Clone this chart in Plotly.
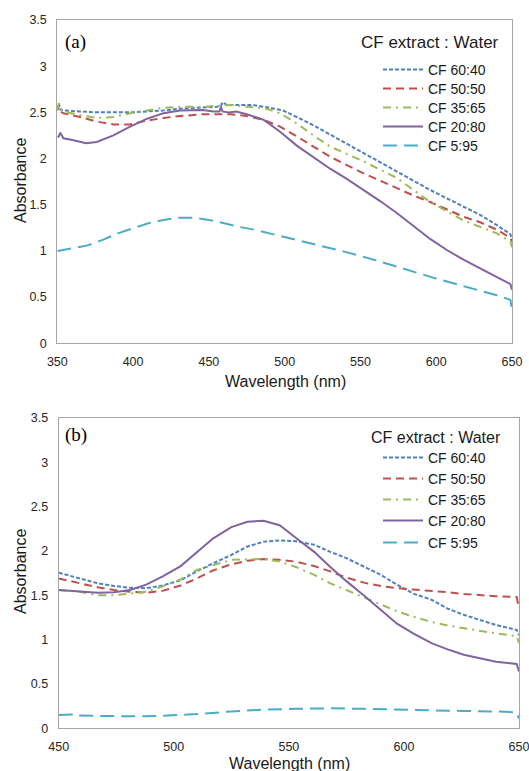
import plotly.graph_objects as go

W, H = 529, 771

series_names = ["CF 60:40", "CF 50:50", "CF 35:65", "CF 20:80", "CF 5:95"]
series_colors = ["#4F81BD", "#C0504D", "#9BBB59", "#8064A2", "#4BACC6"]
series_dashes = ["4px,2px", "8px,5px", "8px,5px,2px,5px", "solid", "14px,7px"]

# ---------------- Panel (a): 350-650 nm ----------------
a_wl_6040 = [350, 351, 352, 355, 365, 375, 387, 400, 409, 420, 431, 446, 455, 458, 459, 462,
             470, 479, 490, 499, 508, 519, 530, 541, 552, 563, 574, 585, 596, 607, 618, 629,
             640, 649, 650]
a_ab_6040 = [2.53, 2.60, 2.53, 2.52, 2.51, 2.50, 2.50, 2.50, 2.51, 2.52, 2.54, 2.55, 2.56, 2.57, 2.61, 2.58,
             2.58, 2.58, 2.55, 2.52, 2.45, 2.36, 2.26, 2.16, 2.06, 1.96, 1.86, 1.76, 1.66, 1.57, 1.48, 1.39,
             1.28, 1.18, 1.11]

a_wl_5050 = [350, 351, 352, 354, 365, 376, 387, 398, 409, 420, 431, 446, 464, 475, 486, 497,
             508, 519, 530, 541, 552, 563, 574, 585, 596, 607, 618, 629, 640, 649, 650]
a_ab_5050 = [2.52, 2.58, 2.51, 2.49, 2.45, 2.40, 2.37, 2.37, 2.41, 2.44, 2.46, 2.48, 2.48, 2.46, 2.42, 2.345,
             2.24, 2.13, 2.02, 1.93, 1.84, 1.76, 1.68, 1.60, 1.53, 1.45, 1.37, 1.31, 1.23, 1.14, 1.10]

a_wl_3565 = [350, 351, 352, 354, 365, 376, 387, 398, 409, 420, 431, 446, 464, 479, 488, 497,
             508, 519, 530, 541, 552, 563, 574, 585, 596, 607, 618, 629, 640, 649, 650]
a_ab_3565 = [2.53, 2.60, 2.54, 2.51, 2.47, 2.44, 2.45, 2.49, 2.52, 2.55, 2.56, 2.56, 2.58, 2.56, 2.54, 2.49,
             2.38, 2.25, 2.13, 2.05, 1.97, 1.88, 1.79, 1.66, 1.53, 1.43, 1.33, 1.26, 1.19, 1.10, 1.04]

a_wl_2080 = [350, 351, 352, 354, 360, 365, 369, 376, 387, 398, 409, 420, 431, 446, 453, 457,
             458, 459, 463, 468, 475, 486, 497, 508, 519, 530, 541, 552, 563, 574, 587, 596,
             607, 618, 629, 640, 649, 650]
a_ab_2080 = [2.23, 2.24, 2.28, 2.22, 2.20, 2.18, 2.165, 2.18, 2.25, 2.345, 2.43, 2.49, 2.52, 2.525, 2.51, 2.51,
             2.56, 2.51, 2.50, 2.51, 2.48, 2.42, 2.29, 2.14, 2.01, 1.89, 1.78, 1.66, 1.54, 1.41, 1.24, 1.13,
             1.01, 0.905, 0.81, 0.715, 0.64, 0.58]

a_wl_595 = [350, 360, 370, 380, 390, 400, 410, 420, 430, 440, 450, 460, 470, 480, 490, 500,
            520, 540, 560, 580, 600, 620, 640, 649, 650]
a_ab_595 = [1.00, 1.03, 1.06, 1.12, 1.19, 1.245, 1.30, 1.335, 1.36, 1.36, 1.335, 1.30, 1.26, 1.23, 1.19, 1.15,
            1.07, 0.99, 0.90, 0.80, 0.70, 0.61, 0.52, 0.47, 0.35]

# ---------------- Panel (b): 450-650 nm ----------------
b_wl = [450, 459, 467, 474, 481, 488, 495, 503, 510, 517, 525, 532, 539, 546, 553, 561,
        568, 575, 583, 590, 597, 604, 612, 619, 626, 633, 640, 649, 650]
b_ab_6040 = [1.755, 1.69, 1.635, 1.605, 1.585, 1.58, 1.61, 1.67, 1.77, 1.86, 1.955, 2.05, 2.105, 2.12, 2.11, 2.07,
             1.99, 1.92, 1.82, 1.73, 1.62, 1.52, 1.45, 1.35, 1.28, 1.22, 1.165, 1.11, 1.05]
b_ab_5050 = [1.69, 1.64, 1.59, 1.56, 1.54, 1.53, 1.55, 1.61, 1.69, 1.78, 1.85, 1.89, 1.91, 1.90, 1.88, 1.83,
             1.77, 1.70, 1.64, 1.605, 1.58, 1.565, 1.55, 1.535, 1.515, 1.50, 1.49, 1.48, 1.35]
b_ab_3565 = [1.56, 1.54, 1.50, 1.50, 1.52, 1.54, 1.60, 1.68, 1.785, 1.84, 1.90, 1.905, 1.91, 1.88, 1.82, 1.73,
             1.635, 1.56, 1.47, 1.39, 1.32, 1.26, 1.20, 1.16, 1.13, 1.10, 1.07, 1.04, 0.96]
b_ab_2080 = [1.56, 1.54, 1.53, 1.535, 1.56, 1.62, 1.71, 1.83, 1.99, 2.14, 2.27, 2.33, 2.34, 2.29, 2.15, 1.99,
             1.82, 1.66, 1.49, 1.335, 1.18, 1.07, 0.96, 0.89, 0.83, 0.79, 0.75, 0.725, 0.64]
b_wl_595 = [450, 456, 457, 459, 467, 481, 495, 510, 525, 539, 553, 568, 583, 597, 612, 626, 640, 649, 650]
b_ab_595 = [0.15, 0.155, 0.165, 0.145, 0.14, 0.135, 0.14, 0.16, 0.19, 0.21, 0.22, 0.225, 0.22, 0.21, 0.20, 0.195,
            0.19, 0.18, 0.11]

panel_a = [(a_wl_6040, a_ab_6040), (a_wl_5050, a_ab_5050), (a_wl_3565, a_ab_3565),
           (a_wl_2080, a_ab_2080), (a_wl_595, a_ab_595)]
panel_b = [(b_wl, b_ab_6040), (b_wl, b_ab_5050), (b_wl, b_ab_3565),
           (b_wl, b_ab_2080), (b_wl_595, b_ab_595)]

def px_x(p):
    return p / W

def px_y(p):
    return 1 - p / H

FONT = "Liberation Sans, Arial, sans-serif"

# legend row centres (px) for each panel
legend_rows_a = [70, 89, 108, 127, 146]
legend_rows_b = [458, 479, 500, 521, 543]

fig = go.Figure()
legend_layout = {}
for i, (xs, ys) in enumerate(panel_a):
    key = "legend" if i == 0 else f"legend{i + 1}"
    fig.add_trace(go.Scatter(x=xs, y=ys, mode="lines", name=series_names[i], showlegend=True,
                             line=dict(color=series_colors[i], width=2, dash=series_dashes[i]),
                             xaxis="x", yaxis="y", legend=key))
    legend_layout[key] = dict(x=px_x(378), y=px_y(legend_rows_a[i]), xanchor="left",
                              yanchor="middle", bgcolor="rgba(0,0,0,0)", itemwidth=40,
                              font=dict(family=FONT, size=14, color="#1a1a1a"))
for i, (xs, ys) in enumerate(panel_b):
    key = f"legend{i + 6}"
    fig.add_trace(go.Scatter(x=xs, y=ys, mode="lines", name=series_names[i], showlegend=True,
                             line=dict(color=series_colors[i], width=2, dash=series_dashes[i]),
                             xaxis="x2", yaxis="y2", legend=key))
    legend_layout[key] = dict(x=px_x(378), y=px_y(legend_rows_b[i]), xanchor="left",
                              yanchor="middle", bgcolor="rgba(0,0,0,0)", itemwidth=40,
                              font=dict(family=FONT, size=14, color="#1a1a1a"))

tickfont = dict(family=FONT, size=12.5, color="#262626")
axis_common = dict(showline=True, linecolor="#A6A6A6", linewidth=1, mirror=True,
                   showgrid=False, zeroline=False, ticks="outside", ticklen=7,
                   tickcolor="rgba(0,0,0,0)", tickfont=tickfont, automargin=False,
                   ticklabeloverflow="allow")

fig.update_layout(
    width=W, height=H,
    showlegend=True,
    margin=dict(l=0, r=0, t=0, b=0, autoexpand=False),
    paper_bgcolor="white", plot_bgcolor="white",
    xaxis=dict(domain=[px_x(57.3), px_x(512)], range=[350, 650], dtick=50, tick0=350,
               anchor="y", **axis_common),
    yaxis=dict(domain=[px_y(343.3), px_y(20)], range=[0, 3.5], dtick=0.5,
               anchor="x", **axis_common),
    xaxis2=dict(domain=[px_x(58.7), px_x(519)], range=[450, 650], dtick=50, tick0=450,
                anchor="y2", **axis_common),
    yaxis2=dict(domain=[px_y(728.3), px_y(418)], range=[0, 3.5], dtick=0.5,
                anchor="x2", **axis_common),
    **legend_layout,
)

annots = [
    dict(text="(a)", x=px_x(63), y=px_y(42), xanchor="left", yanchor="middle",
         font=dict(family="Liberation Serif, Times New Roman, serif", size=19, color="#000")),
    dict(text="(b)", x=px_x(63), y=px_y(435), xanchor="left", yanchor="middle",
         font=dict(family="Liberation Serif, Times New Roman, serif", size=19, color="#000")),
    dict(text="CF extract : Water", x=px_x(501), y=px_y(42), xanchor="right", yanchor="middle",
         font=dict(family=FONT, size=17, color="#1a1a1a")),
    dict(text="CF extract : Water", x=px_x(503), y=px_y(437), xanchor="right", yanchor="middle",
         font=dict(family=FONT, size=16, color="#1a1a1a")),
    dict(text="Wavelength (nm)", x=px_x(285), y=px_y(381), xanchor="center", yanchor="middle",
         font=dict(family=FONT, size=16, color="#1a1a1a")),
    dict(text="Wavelength (nm)", x=px_x(289), y=px_y(763), xanchor="center", yanchor="middle",
         font=dict(family=FONT, size=16, color="#1a1a1a")),
    dict(text="Absorbance", x=px_x(20), y=px_y(181), xanchor="center", yanchor="middle",
         textangle=-90, font=dict(family=FONT, size=16, color="#1a1a1a")),
    dict(text="Absorbance", x=px_x(20), y=px_y(572), xanchor="center", yanchor="middle",
         textangle=-90, font=dict(family=FONT, size=16, color="#1a1a1a")),
]
for a in annots:
    fig.add_annotation(xref="paper", yref="paper", showarrow=False, **a)

fig.write_html("out.html")
